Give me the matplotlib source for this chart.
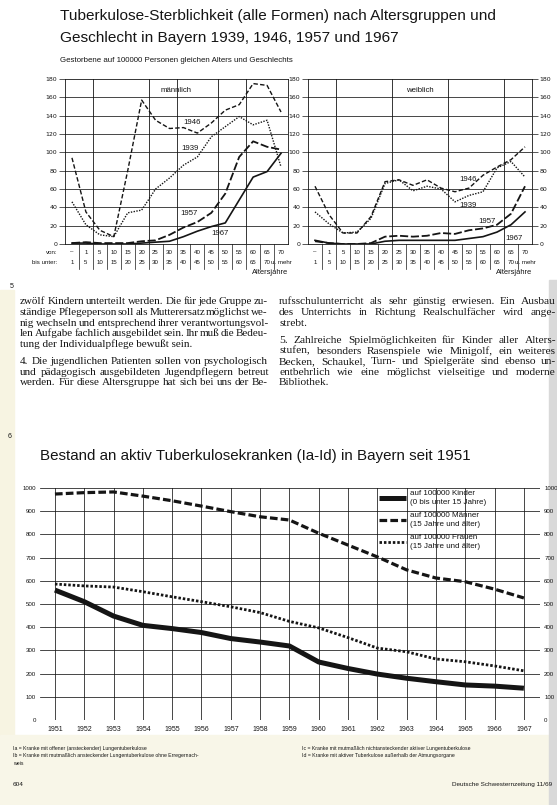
import numpy as np
import matplotlib
matplotlib.use("Agg")
import matplotlib.pyplot as plt
from matplotlib.patches import Rectangle

W, H = 557, 805
SANS = ["Liberation Sans", "DejaVu Sans"]
SERIF = ["Liberation Serif", "DejaVu Serif"]
INK = "#151515"

# --- Data: Sterblichkeit nach Altersgruppen -------------------------------
age_from = ["–", "1", "5", "10", "15", "20", "25", "30", "35", "40", "45",
            "50", "55", "60", "65", "70"]
age_to = ["1", "5", "10", "15", "20", "25", "30", "35", "40", "45", "50",
          "55", "60", "65", "70", "u. mehr"]

m_1939 = [46, 21, 10, 8, 34, 37, 60, 72, 86, 95, 117, 128, 139, 130, 135, 84]
m_1946 = [94, 35, 15, 8, 80, 157, 135, 126, 127, 121, 132, 146, 152, 175, 173, 144]
m_1957 = [1, 2, 1, 1, 1, 3, 4, 10, 18, 24, 34, 55, 95, 112, 106, 103]
m_1967 = [1, 1, 0, 0, 0, 1, 2, 3, 8, 14, 19, 23, 48, 73, 79, 99]

f_1939 = [35, 22, 12, 13, 28, 66, 70, 58, 63, 60, 46, 53, 57, 83, 90, 73]
f_1946 = [63, 32, 12, 12, 30, 68, 70, 64, 70, 61, 57, 61, 75, 84, 92, 106]
f_1957 = [3, 1, 0, 0, 1, 8, 9, 8, 9, 12, 11, 15, 17, 21, 33, 63]
f_1967 = [4, 1, 0, 0, 0, 3, 4, 4, 4, 4, 4, 6, 8, 13, 21, 35]

# --- Data: Bestand an aktiv Tuberkulosekranken ----------------------------
years = list(range(1951, 1968))
kinder = [560, 510, 448, 408, 394, 377, 351, 336, 319, 250, 222, 198, 180, 165, 151, 146, 137]
maenner = [974, 980, 983, 965, 945, 922, 898, 876, 862, 805, 754, 703, 647, 612, 596, 564, 526]
frauen = [586, 578, 573, 553, 531, 510, 488, 463, 425, 397, 355, 310, 294, 263, 251, 233, 212]

legend_labels = ["auf 100000 Kinder\n(0 bis unter 15 Jahre)",
                 "auf 100000 Männer\n(15 Jahre und älter)",
                 "auf 100000 Frauen\n(15 Jahre und älter)"]

left_text = [
    "zwölf Kindern unterteilt werden. Die für jede Gruppe zu-",
    "ständige Pflegeperson soll als Mutterersatz möglichst we-",
    "nig wechseln und entsprechend ihrer verantwortungsvol-",
    "len Aufgabe fachlich ausgebildet sein. Ihr muß die Bedeu-",
    "tung der Individualpflege bewußt sein.",
    None,
    "4. Die jugendlichen Patienten sollen von psychologisch",
    "und pädagogisch ausgebildeten Jugendpflegern betreut",
    "werden. Für diese Altersgruppe hat sich bei uns der Be-",
]
right_text = [
    "rufsschulunterricht als sehr günstig erwiesen. Ein Ausbau",
    "des Unterrichts in Richtung Realschulfächer wird ange-",
    "strebt.",
    None,
    "5. Zahlreiche Spielmöglichkeiten für Kinder aller Alters-",
    "stufen, besonders Rasenspiele wie Minigolf, ein weiteres",
    "Becken, Schaukel, Turn- und Spielgeräte sind ebenso un-",
    "entbehrlich wie eine möglichst vielseitige und moderne",
    "Bibliothek.",
]


def px_axes(fig, x0, y0, x1, y1):
    return fig.add_axes([x0 / W, 1 - y1 / H, (x1 - x0) / W, (y1 - y0) / H])


def ftext(fig, x, y, s, **kw):
    kw.setdefault("color", INK)
    kw.setdefault("family", SANS)
    return fig.text(x / W, 1 - y / H, s, **kw)


def justified(fig, renderer, x0, x1, y, line, last, size):
    words = line.split()
    if last or len(words) < 2:
        ftext(fig, x0, y, line, family=SERIF, fontsize=size, va="center")
        return
    arts = [ftext(fig, x0, y, w, family=SERIF, fontsize=size, va="center")
            for w in words]
    widths = [a.get_window_extent(renderer).width for a in arts]
    gap = (x1 - x0 - sum(widths)) / (len(words) - 1)
    x = x0
    for a, w in zip(arts, widths):
        a.set_x(x / W)
        x += w + gap


def age_chart(fig, x0, x1, series, title, labels, right_labels, row_names):
    ax = px_axes(fig, x0, 79, x1, 244)
    n = len(age_from)
    xs = np.arange(n)
    styles = {
        "1939": dict(ls=(0, (1.0, 1.0)), lw=1.0),
        "1946": dict(ls=(0, (3.2, 1.6)), lw=1.0),
        "1957": dict(ls=(0, (4.5, 1.5)), lw=1.3),
        "1967": dict(ls="-", lw=1.2),
    }
    for name, vals in series.items():
        ax.plot(xs, vals, color=INK, **styles[name])
    ax.set_xlim(-0.5, n - 0.5)
    ax.set_ylim(0, 180)
    ax.set_yticks(range(0, 181, 20))
    ax.set_xticks([])
    for v in range(20, 180, 20):
        ax.axhline(v, color=INK, lw=0.55)
    for b in labels["vlines"]:
        ax.axvline(b - 0.5, color=INK, lw=0.6)
    ax.tick_params(axis="y", labelsize=4.5, length=4, width=0.5, pad=1.5,
                   colors=INK, labelright=right_labels, right=right_labels)
    for sp in ax.spines.values():
        sp.set_linewidth(0.6)
        sp.set_color(INK)
    tr = ax.get_xaxis_transform()
    for i in range(n):
        ax.text(i, -0.05, age_from[i], transform=tr, ha="center", va="center",
                fontsize=4.4, family=SANS, color=INK)
        ax.text(i, -0.11, age_to[i], transform=tr, ha="center", va="center",
                fontsize=4.4, family=SANS, color=INK)
    for b in range(1, n):
        ax.plot([b - 0.5, b - 0.5], [0, -0.15], transform=tr, color=INK,
                lw=0.5, clip_on=False)
    ax.text(1.0, -0.17, "Altersjahre", transform=ax.transAxes, ha="right",
            va="center", fontsize=5.4, family=SANS, color=INK)
    ax.text(0.5, 0.93, title, transform=ax.transAxes, ha="center",
            va="center", fontsize=5.6, family=SANS, color=INK)
    for name, (lx, ly) in labels["years"].items():
        ax.text(lx, ly, name, ha="center", va="center", fontsize=5.6,
                family=SANS, color=INK)
    if row_names:
        ax.text(-0.035, -0.05, "von:", transform=ax.transAxes, ha="right",
                va="center", fontsize=4.4, family=SANS, color=INK)
        ax.text(-0.035, -0.11, "bis unter:", transform=ax.transAxes,
                ha="right", va="center", fontsize=4.4, family=SANS, color=INK)
    return ax


def main():
    fig = plt.figure(figsize=(W / 100, H / 100), dpi=100)
    fig.patch.set_facecolor("white")
    renderer = fig.canvas.get_renderer()

    # scan margins
    fig.patches.append(Rectangle((0, 0), 14 / W, 515 / H, transform=fig.transFigure,
                                 color="#f7f4e2", zorder=-5))
    fig.patches.append(Rectangle((0, 0), 1, 70 / H, transform=fig.transFigure,
                                 color="#f8f6e8", zorder=-5))
    fig.patches.append(Rectangle((549 / W, 0), 8 / W, 525 / H,
                                 transform=fig.transFigure, color="#d9d9d9",
                                 zorder=-4))

    ftext(fig, 60, 16, "Tuberkulose-Sterblichkeit (alle Formen) nach Altersgruppen und",
          fontsize=11.1, va="center")
    ftext(fig, 60, 38, "Geschlecht in Bayern 1939, 1946, 1957 und 1967",
          fontsize=11.1, va="center")
    ftext(fig, 60, 60, "Gestorbene auf 100000 Personen gleichen Alters und Geschlechts",
          fontsize=5.7, va="center")

    age_chart(fig, 65, 288,
              {"1939": m_1939, "1946": m_1946, "1957": m_1957, "1967": m_1967},
              "männlich",
              {"vlines": [2, 6, 8, 11, 13],
               "years": {"1946": (8.6, 133), "1939": (8.5, 104),
                         "1957": (8.4, 33), "1967": (10.6, 11)}},
              right_labels=False, row_names=True)
    age_chart(fig, 308, 532,
              {"1939": f_1939, "1946": f_1946, "1957": f_1957, "1967": f_1967},
              "weiblich",
              {"vlines": [2, 6, 10, 14],
               "years": {"1946": (10.9, 70), "1939": (10.9, 42),
                         "1957": (12.3, 25), "1967": (14.2, 6)}},
              right_labels=True, row_names=False)

    ftext(fig, 10, 287, "5", fontsize=5, va="center")

    # body text (the scan widens the right-hand column a little)
    line_y = [302, 312.5, 323, 333.5, 344, None, 361.5, 372, 382.5]
    rline_y = [302, 312.5, 323, None, 340.5, 351, 361.5, 372, 382.5]
    for lines, ys, x0, x1, size in [(left_text, line_y, 20, 268, 8.0),
                                    (right_text, rline_y, 279, 556, 8.2)]:
        for i, (line, y) in enumerate(zip(lines, ys)):
            if line is None:
                continue
            last = i + 1 >= len(lines) or lines[i + 1] is None
            if lines is left_text and i == len(lines) - 1:
                last = False
            justified(fig, renderer, x0, x1, y, line, last, size)

    ftext(fig, 8, 436, "6", fontsize=5, va="center")
    ftext(fig, 40, 456, "Bestand an aktiv Tuberkulosekranken (Ia-Id) in Bayern seit 1951",
          fontsize=10.9, va="center")

    # Bestand chart
    ax = px_axes(fig, 40, 488, 540, 720)
    ax.plot(years, kinder, color=INK, lw=3.6, solid_capstyle="butt",
            label=legend_labels[0])
    ax.plot(years, maenner, color=INK, lw=2.3, ls=(0, (2.4, 1.0)),
            label=legend_labels[1])
    ax.plot(years, frauen, color=INK, lw=2.0, ls=(0, (0.9, 0.7)),
            label=legend_labels[2])
    ax.set_xlim(1950.49, 1967.55)
    ax.set_ylim(0, 1000)
    ax.set_xticks(years)
    ax.set_yticks(range(0, 1001, 100))
    ax.grid(True, color=INK, lw=0.55)
    ax.set_axisbelow(True)
    for sp in ax.spines.values():
        sp.set_visible(False)
    ax.tick_params(axis="x", length=0, labelsize=5.0, pad=4, colors=INK)
    ax.tick_params(axis="y", length=0, labelsize=4.4, pad=3, colors=INK,
                   labelright=True)
    for lab in ax.get_xticklabels() + ax.get_yticklabels():
        lab.set_family(SANS)
    leg = ax.legend(loc="upper left", bbox_to_anchor=(0.672, 1.005),
                    frameon=False, fontsize=5.8, handlelength=3.3,
                    handletextpad=0.5, labelspacing=0.75, borderaxespad=0)
    for t in leg.get_texts():
        t.set_family(SANS)
        t.set_color(INK)
        t.set_linespacing(1.4)

    # footnotes
    notes_l = ["Ia = Kranke mit offener (ansteckender) Lungentuberkulose",
               "Ib = Kranke mit mutmaßlich ansteckender Lungentuberkulose ohne Erregernach-",
               "weis"]
    notes_r = ["Ic = Kranke mit mutmaßlich nichtansteckender aktiver Lungentuberkulose",
               "Id = Kranke mit aktiver Tuberkulose außerhalb der Atmungsorgane"]
    for i, s in enumerate(notes_l):
        ftext(fig, 13, 748 + 7.5 * i, s, fontsize=3.7, va="center")
    for i, s in enumerate(notes_r):
        ftext(fig, 302, 748 + 7.5 * i, s, fontsize=3.7, va="center")

    ftext(fig, 13, 784, "604", fontsize=4.6, va="center")
    ftext(fig, 552, 784, "Deutsche Schwesternzeitung 11/69", fontsize=4.6,
          va="center", ha="right")

    fig.savefig("out.png", dpi=100)


if __name__ == "__main__":
    main()
